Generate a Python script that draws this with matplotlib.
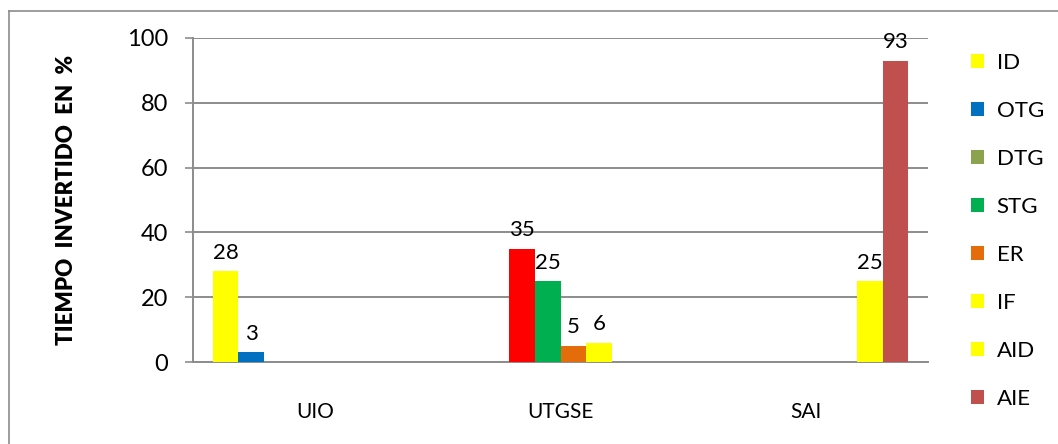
import matplotlib
matplotlib.use("Agg")
from matplotlib import pyplot as plt
from matplotlib.patches import Patch
from matplotlib.lines import Line2D
import numpy as np

categories = ["UIO", "UTGSE", "SAI"]
series = ["ID", "OTG", "DTG", "STG", "ER", "IF", "AID", "AIE"]
colors = ["#FFFF00", "#0070C0", "#8BA34E", "#00B050", "#E46C0A", "#FFFF00", "#FFFF00", "#C0504D"]
nan = np.nan
values = {
    "ID":  [28, nan, nan],
    "OTG": [3, nan, nan],
    "DTG": [nan, 35, nan],
    "STG": [nan, 25, nan],
    "ER":  [nan, 5, nan],
    "IF":  [nan, 6, nan],
    "AID": [nan, nan, 25],
    "AIE": [nan, nan, 93],
}
# the single DTG point in UTGSE is drawn red in the original
point_colors = {("DTG", 1): "#FF0000"}

plt.rcParams["font.family"] = ["Lato", "DejaVu Sans"]
fig = plt.figure(figsize=(10.58, 4.44), dpi=100)
ax = fig.add_axes([193 / 1058, 1 - 362 / 444, 735 / 1058, 324 / 444])

x = np.arange(len(categories))
w = 0.105
for k, name in enumerate(series):
    pos = x - 4 * w + (k + 0.5) * w
    vals = np.array(values[name], dtype=float)
    cols = [point_colors.get((name, i), colors[k]) for i in range(len(categories))]
    bars = ax.bar(pos, np.nan_to_num(vals), w, color=cols, zorder=3)
    for i, b in enumerate(bars):
        if np.isnan(vals[i]):
            b.set_visible(False)
            continue
        ax.annotate("%d" % vals[i], (b.get_x() + b.get_width() / 2, vals[i]),
                    xytext=(0, 6), textcoords="offset points",
                    ha="center", va="bottom", fontsize=16)

ax.set_xlim(-0.5, 2.5)
ax.set_ylim(0, 100)
ax.set_yticks(range(0, 101, 20))
ax.set_xticks(x)
ax.set_xticklabels(categories)
ax.tick_params(axis="x", length=0, pad=29, labelsize=15)
ax.tick_params(axis="y", length=6, width=1.2, color="#8c8c8c", pad=12, labelsize=17)
ax.yaxis.grid(True, color="#8c8c8c", linewidth=1.4, zorder=0)
for s in ["top", "right"]:
    ax.spines[s].set_visible(False)
for s in ["left", "bottom"]:
    ax.spines[s].set_color("#8c8c8c")
    ax.spines[s].set_linewidth(1.4)
ax.set_ylabel("TIEMPO  INVERTIDO  EN  %", fontsize=16, fontweight="heavy", labelpad=36)

handles = [Patch(facecolor=c, edgecolor="none") for c in colors]
leg = fig.legend(handles, series, loc="upper left", bbox_to_anchor=(971 / 1058, 1 - 53 / 444),
                 frameon=False, fontsize=16, handlelength=0.6, handleheight=0.6,
                 handletextpad=0.55, labelspacing=1.26, borderaxespad=0, borderpad=0)

# chart frame (only left and top edges visible in the crop)
fig.add_artist(Line2D([9 / 1058, 9 / 1058], [0, 1 - 11 / 444], color="#8c8c8c", linewidth=1.2))
fig.add_artist(Line2D([9 / 1058, 1], [1 - 11 / 444, 1 - 11 / 444], color="#8c8c8c", linewidth=1.2))

fig.savefig("out.png", dpi=100)
